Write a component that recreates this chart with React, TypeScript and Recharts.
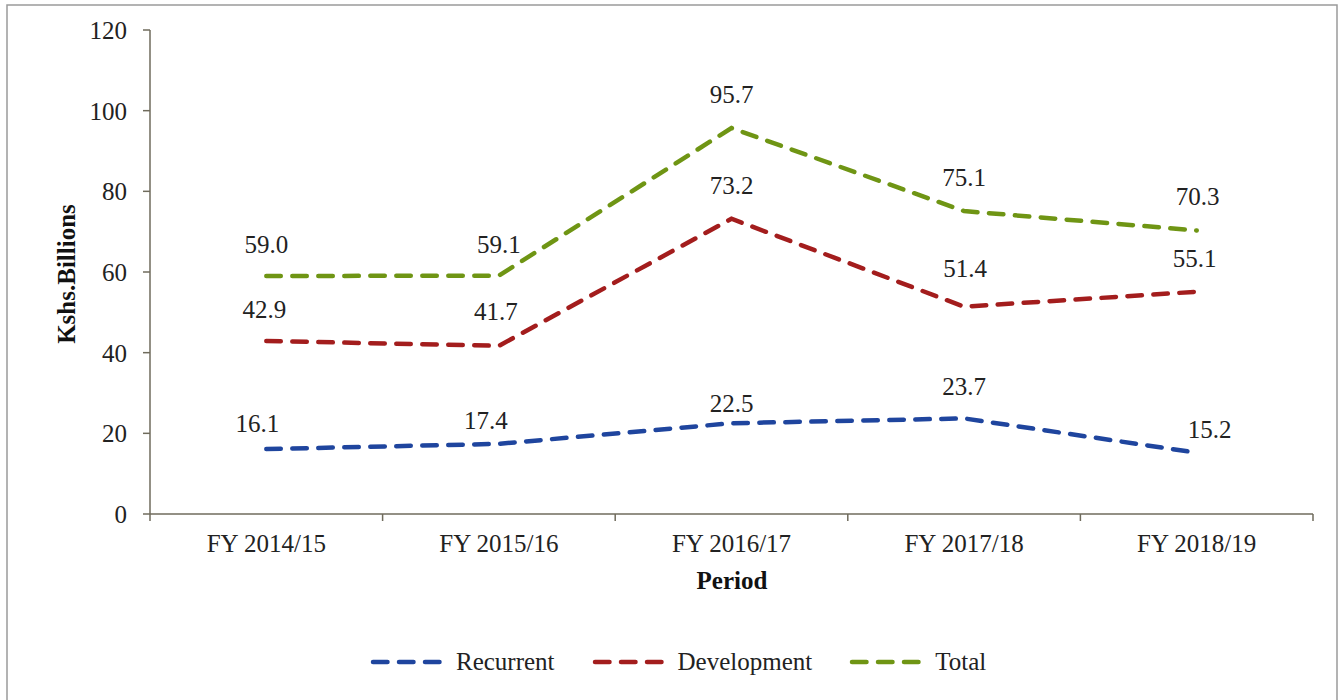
import React from 'react';
import { LineChart, Line, XAxis, YAxis, LabelList, Legend } from 'recharts';

const categories = ['FY 2014/15', 'FY 2015/16', 'FY 2016/17', 'FY 2017/18', 'FY 2018/19'];
const recurrent = [16.1, 17.4, 22.5, 23.7, 15.2];
const development = [42.9, 41.7, 73.2, 51.4, 55.1];
const total = [59.0, 59.1, 95.7, 75.1, 70.3];
const yTicks = [0, 20, 40, 60, 80, 100, 120];

// label offsets (dx, dy of label centre from point)
const recurrentLabelOffsets = [[-9, -25], [-13, -23], [0, -19], [0, -31], [13, -23]];
const developmentLabelOffsets = [[-2, -31], [-3, -34], [0, -33], [1, -38], [-2, -33]];
const totalLabelOffsets = [[0, -31], [0, -31], [0, -33], [0, -33], [1, -33]];

const FONT = '"Liberation Serif", "Times New Roman", serif';
const BLUE = '#1f459e';
const RED = '#a31d1d';
const GREEN = '#6f9514';
const AXIS = '#6f6b5c';

const data = categories.map((c, i) => ({
  x: i + 0.5,
  name: c,
  recurrent: recurrent[i],
  development: development[i],
  total: total[i],
}));

const xTicks: number[] = [];
for (let i = 0; i <= categories.length * 2; i++) xTicks.push(i / 2);

const XTick = (props: any) => {
  const { x, y, payload } = props;
  const v = payload.value;
  if (Number.isInteger(v)) {
    return <line x1={x} x2={x} y1={y - 7} y2={y} stroke={AXIS} strokeWidth={1.5} />;
  }
  const label = categories[Math.floor(v)];
  return (
    <text x={x} y={y + 31} textAnchor="middle" fontFamily={FONT} fontSize={25} fill="#222">
      {label}
    </text>
  );
};

const makeLabel = (offsets: number[][]) => (props: any) => {
  const { x, y, value, index } = props;
  const [dx, dy] = offsets[index] || [0, -30];
  return (
    <text x={x + dx} y={y + dy + 8} textAnchor="middle" fontFamily={FONT} fontSize={25} fill="#222">
      {Number(value).toFixed(1)}
    </text>
  );
};

const legendItems = [
  { name: 'Recurrent', color: BLUE },
  { name: 'Development', color: RED },
  { name: 'Total', color: GREEN },
];

const LegendContent = () => (
  <div style={{ display: 'flex', alignItems: 'center', paddingLeft: 370, fontFamily: FONT, fontSize: 25, color: '#222', lineHeight: '28px' }}>
    {legendItems.map((it) => (
      <div key={it.name} style={{ display: 'flex', alignItems: 'center', marginRight: 37 }}>
        <svg width={74} height={10} style={{ marginRight: 12 }}>
          <line x1={3} x2={70} y1={5} y2={5} stroke={it.color} strokeWidth={4.5} strokeDasharray="14.5 11.5" strokeLinecap="round" />
        </svg>
        <span>{it.name}</span>
      </div>
    ))}
  </div>
);

export default function App() {
  return (
    <div style={{ position: 'absolute', left: 0, top: 0, width: 1339, height: 700, background: '#fff' }}>
      <LineChart width={1339} height={700} data={data} margin={{ top: 30, right: 26, left: 0, bottom: 126 }}>
        <XAxis
          dataKey="x"
          type="number"
          domain={[0, categories.length]}
          ticks={xTicks}
          interval={0}
          tick={<XTick />}
          tickLine={{ stroke: 'none' }}
          tickSize={7}
          tickMargin={0}
          height={60}
          axisLine={{ stroke: AXIS, strokeWidth: 1.5 }}
          allowDataOverflow
        />
        <YAxis
          width={150}
          domain={[0, 120]}
          ticks={yTicks}
          interval={0}
          tickSize={7}
          tickMargin={16}
          tickLine={{ stroke: AXIS, strokeWidth: 1.5 }}
          axisLine={{ stroke: AXIS, strokeWidth: 1.5 }}
          tick={{ fontFamily: FONT, fontSize: 25, fill: '#222' }}
        />
        <Legend verticalAlign="middle" layout="horizontal" content={<LegendContent />} wrapperStyle={{ top: 648, left: 0, width: 1339 }} />
        <Line dataKey="recurrent" name="Recurrent" stroke={BLUE} strokeWidth={4.5} strokeDasharray="14.5 11.5" strokeLinecap="round" dot={false} activeDot={false} isAnimationActive={false}>
          <LabelList dataKey="recurrent" content={makeLabel(recurrentLabelOffsets)} />
        </Line>
        <Line dataKey="development" name="Development" stroke={RED} strokeWidth={4.5} strokeDasharray="14.5 11.5" strokeLinecap="round" dot={false} activeDot={false} isAnimationActive={false}>
          <LabelList dataKey="development" content={makeLabel(developmentLabelOffsets)} />
        </Line>
        <Line dataKey="total" name="Total" stroke={GREEN} strokeWidth={4.5} strokeDasharray="14.5 11.5" strokeLinecap="round" dot={false} activeDot={false} isAnimationActive={false}>
          <LabelList dataKey="total" content={makeLabel(totalLabelOffsets)} />
        </Line>
      </LineChart>
      <svg width={1339} height={700} style={{ position: 'absolute', left: 0, top: 0, pointerEvents: 'none' }}>
        <rect x={7} y={5} width={1330} height={700} fill="none" stroke="#9a9a9a" strokeWidth={1.5} />
        <text x={0} y={0} transform="translate(75 274) rotate(-90)" textAnchor="middle" fontFamily={FONT} fontSize={25} fontWeight="bold" fill="#111">
          Kshs.Billions
        </text>
        <text x={732} y={589} textAnchor="middle" fontFamily={FONT} fontSize={25} fontWeight="bold" fill="#111">
          Period
        </text>
      </svg>
    </div>
  );
}
